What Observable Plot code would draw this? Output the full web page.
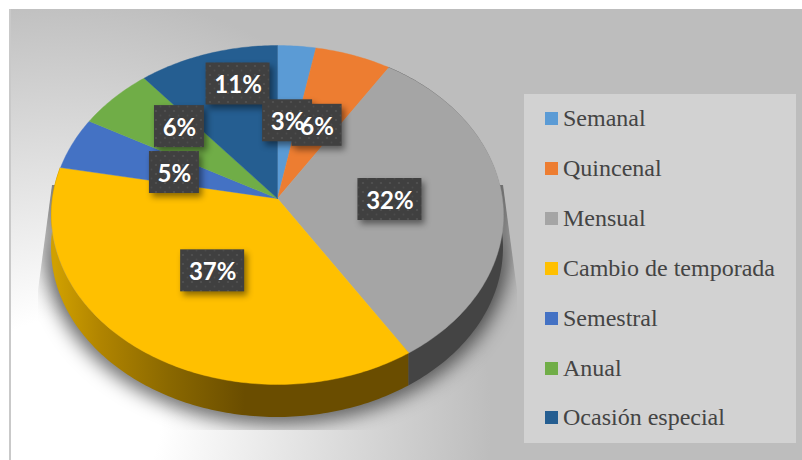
<!DOCTYPE html>
<html><head><meta charset="utf-8">
<script src="https://cdn.jsdelivr.net/npm/d3@7"></script>
<script src="https://cdn.jsdelivr.net/npm/@observablehq/plot@0.6"></script>
<style>
html,body{margin:0;padding:0;background:#fff;overflow:hidden}
#stage{position:relative;width:802px;height:460px;overflow:hidden}
#bg{position:absolute;left:9px;top:9px;right:0;bottom:0;box-sizing:border-box;border-left:2px solid #c9c9c9;
background:radial-gradient(circle 430px at 50px 410px,#fff 0,#fff 100px,#bdbdbd 100%)}
#chart{position:absolute;left:0;top:0}
#legend{position:absolute;left:524px;top:94px;width:272px;height:349px;background:#d2d2d2;box-sizing:border-box;padding:0 0 0 21px;
display:flex;flex-direction:column;justify-content:space-around;font:24px "Liberation Serif",serif;color:#444}
#legend div{display:flex;align-items:center;height:30px}
#legend i{display:inline-block;width:13px;height:13px;margin-right:5px}
</style></head><body>
<div id="stage"><div id="bg"></div><div id="chart"></div><div id="legend"></div></div>
<script>
const categories=["Semanal","Quincenal","Mensual","Cambio de temporada","Semestral","Anual","Ocasión especial"];
const shares=[3,6,32,37,5,6,11];
const colors=["#5b9bd5","#ed7d31","#a5a5a5","#ffc000","#4472c4","#70ad47","#255e91"];
const labelDx=[0,0,0,1,1,-14,-3];
const labelDy=[2,1.5,1,0,2,-20,-39];

// perspective of the tilted disc: the far edge is compressed, the near edge enlarged
const tilt=0.0973, cx=277, cy=198, A=224.9, B=167.9, depth=33;
const project=(share,r)=>{
  const t=share/100*2*Math.PI, px=r*Math.sin(t), py=r*Math.cos(t), w=1+tilt*py;
  return [px/w,py/w];
};
const total=d3.sum(shares);
let cum=0;
const slices=categories.map((name,i)=>{const s={name,from:cum/total*100,to:(cum+shares[i])/total*100,value:shares[i],i};cum+=shares[i];return s;});
const rim=s=>{
  const n=Math.max(4,Math.ceil((s.to-s.from)*4)), out=[];
  for(let k=0;k<=n;k++){const [x,y]=project(s.from+(s.to-s.from)*k/n,1);out.push({name:s.name,x,y,y2:y-depth/B});}
  return out;
};
const topFace=slices.flatMap(s=>[{name:s.name,x:0,y:0},...rim(s),{name:s.name,x:0,y:0}]);
const wallGray=rim(slices[2]);
const wallYellow=rim(slices[3]);
const outline=slices.flatMap(rim);
const boxes=slices.map((s,i)=>{
  const [x,y]=project((s.from+s.to)/2,0.5);
  const X=x+labelDx[i]/A, Y=y-labelDy[i]/B, text=s.value+"%", hw=(text.length===2?25:32)/A, hh=21/B;
  return {x:X,y:Y,text,x1:X-hw,x2:X+hw,y1:Y-hh,y2:Y+hh};
});

const defs=()=>{
  const ns="http://www.w3.org/2000/svg", d=document.createElementNS(ns,"defs");
  d.innerHTML=`
  <linearGradient id="wallY" gradientUnits="userSpaceOnUse" x1="55" x2="245" y1="0" y2="0">
    <stop offset="0" stop-color="#d0a000"/><stop offset="0.24" stop-color="#b08400"/><stop offset="0.6" stop-color="#8a6800"/><stop offset="1" stop-color="#6a4d00"/>
  </linearGradient>
  <pattern id="dots" patternUnits="userSpaceOnUse" width="9" height="9">
    <rect width="9" height="9" fill="#404040"/><circle cx="3" cy="3" r="1.1" fill="#525252"/><circle cx="7.5" cy="7.5" r="0.9" fill="#4c4c4c"/>
  </pattern>
  <clipPath id="shadowClip"><polygon points="52,185 38,290 38,430 517,430 517,290 503,185"/></clipPath>`;
  return d;
};

const plot=Plot.plot({
  width:802,height:460,margin:0,
  style:{background:"transparent"},
  x:{type:"linear",domain:[-1,1],range:[cx-A,cx+A],axis:null},
  y:{type:"linear",domain:[-1,1],range:[cy+B,cy-B],axis:null},
  color:{domain:categories,range:colors},
  marks:[
    defs,
    Plot.areaY(outline,{x:"x",y1:"y",y2:"y2",z:null,fill:"#000",fillOpacity:0.42,stroke:"#000",strokeWidth:18,strokeOpacity:0.42,imageFilter:"blur(9px)",
      render(i,s,v,d,c,next){const g=next(i,s,v,d,c);const w=document.createElementNS("http://www.w3.org/2000/svg","g");w.setAttribute("clip-path","url(#shadowClip)");w.appendChild(g);return w;}}),
    Plot.areaY(wallGray,{x:"x",y1:"y",y2:"y2",fill:"#444444"}),
    Plot.areaY(wallYellow,{x:"x",y1:"y",y2:"y2",fill:"url(#wallY)"}),
    Plot.line(topFace,{x:"x",y:"y",z:"name",fill:"name",stroke:"name",strokeWidth:0.4,curve:"linear"}),
    Plot.rect(boxes,{x1:"x1",x2:"x2",y1:"y1",y2:"y2",fill:"url(#dots)",imageFilter:"drop-shadow(3px 4px 3px rgba(0,0,0,.45))"}),
    Plot.text(boxes,{x:"x",y:"y",dy:1.5,text:"text",fill:"#fff",fontFamily:"Lato",fontWeight:700,fontSize:24})
  ]
});
document.getElementById("chart").appendChild(plot);
const legend=document.getElementById("legend");
categories.forEach((c,i)=>{
  const row=document.createElement("div");
  const sw=document.createElement("i");sw.style.background=colors[i];
  row.appendChild(sw);row.appendChild(document.createTextNode(c));
  legend.appendChild(row);
});
</script></body></html>
